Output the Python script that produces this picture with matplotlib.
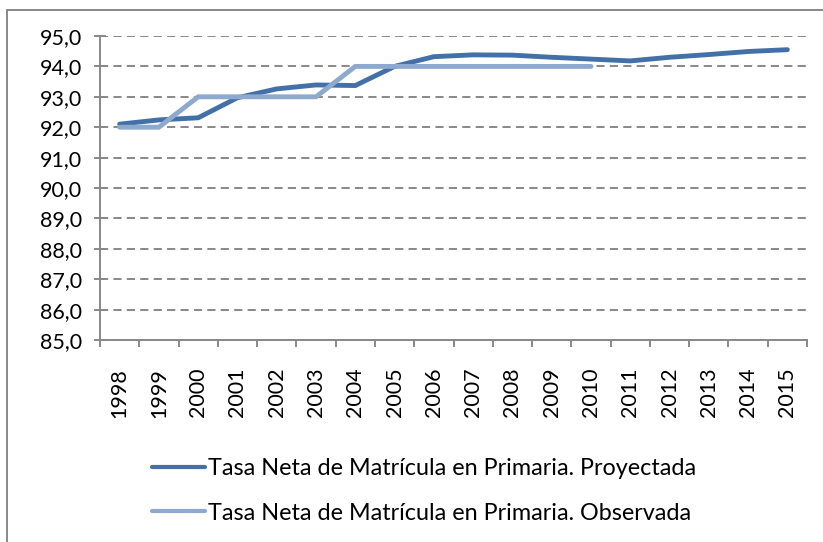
import matplotlib
matplotlib.use("Agg")
import matplotlib.pyplot as plt
from matplotlib.patches import Rectangle
from matplotlib.ticker import FixedLocator, FuncFormatter

plt.rcParams["font.family"] = ["Lato", "DejaVu Sans"]

years = ["1998", "1999", "2000", "2001", "2002", "2003", "2004", "2005", "2006",
         "2007", "2008", "2009", "2010", "2011", "2012", "2013", "2014", "2015"]
proyectada = [92.1, 92.24, 92.31, 92.97, 93.26, 93.39, 93.37, 94.0, 94.32,
              94.38, 94.37, 94.3, 94.24, 94.18, 94.3, 94.39, 94.49, 94.55]
observada = [92.0, 92.0, 93.0, 93.0, 93.0, 93.0, 94.0, 94.0, 94.0,
             94.0, 94.0, 94.0, 94.0]
label_proy = "Tasa Neta de Matrícula en Primaria. Proyectada"
label_obs = "Tasa Neta de Matrícula en Primaria. Observada"

W, H = 823, 542
fig = plt.figure(figsize=(W / 100, H / 100), dpi=100)
ax = fig.add_axes([100 / W, 1 - 340 / H, (807 - 100) / W, (340 - 36) / H])

grey = "#888888"
c_proy = "#4470A8"
c_obs = "#8EA9CE"

x_proy = list(range(len(proyectada)))
x_obs = list(range(len(observada)))
ax.plot(x_proy, proyectada, color=c_proy, lw=3.5, solid_capstyle="round",
        solid_joinstyle="miter", label=label_proy, zorder=3)
ax.plot(x_obs, observada, color=c_obs, lw=3.5, solid_capstyle="round",
        solid_joinstyle="miter", label=label_obs, zorder=4)

ax.set_xlim(-0.5, len(years) - 0.5)
ax.set_ylim(85, 95)

ax.set_yticks(range(85, 96))
ax.yaxis.set_major_formatter(FuncFormatter(lambda v, p: f"{v:.1f}".replace(".", ",")))
ax.yaxis.grid(True, color=grey, lw=1.4, linestyle=(0, (4.2, 2.7)))
ax.set_axisbelow(True)

ax.set_xticks(x_proy)
ax.set_xticklabels(years, rotation=90)
ax.xaxis.set_minor_locator(FixedLocator([i - 0.5 for i in range(len(years) + 1)]))
ax.tick_params(axis="x", which="major", length=0, pad=20, labelsize=15.5)
ax.tick_params(axis="x", which="minor", length=5, width=1.4, color=grey, direction="out")
ax.tick_params(axis="y", which="major", length=8, width=1.4, color=grey,
               direction="inout", pad=9, labelsize=15.5)

for side in ("top", "right"):
    ax.spines[side].set_visible(False)
for side in ("left", "bottom"):
    ax.spines[side].set_color(grey)
    ax.spines[side].set_linewidth(1.4)

leg = fig.legend(loc="upper left", bbox_to_anchor=(143 / W, 1 - 449 / H), frameon=False,
                 fontsize=16.8, handlelength=2.25, handletextpad=0.12, labelspacing=1.0,
                 borderaxespad=0)
for h in leg.get_lines():
    h.set_linewidth(3.0)

fig.add_artist(Rectangle((7 / W, -0.05), 1.2, 1.05 - 10 / H, transform=fig.transFigure,
                         fill=False, edgecolor=grey, lw=1.4))

fig.savefig("out.png", dpi=100)
